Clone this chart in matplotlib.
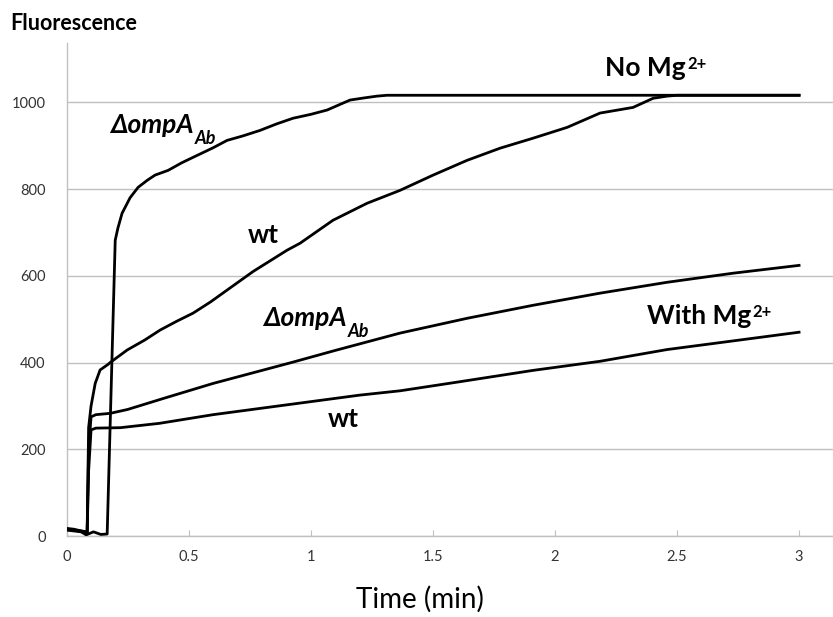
import matplotlib.pyplot as plt

# Time (min) / fluorescence readings, one pair of arrays per trace
t_ompa_nomg = [0, 0.03, 0.06, 0.08, 0.11, 0.14, 0.166, 0.199, 0.21, 0.227, 0.26, 0.293,
               0.33, 0.362, 0.416, 0.47, 0.518, 0.6, 0.657, 0.72, 0.792, 0.86, 0.927,
               1.0, 1.067, 1.12, 1.161, 1.22, 1.271, 1.312, 3.0]
f_ompa_nomg = [15, 14, 10, 3, 10, 4, 5, 682, 710, 744, 780, 804,
               820, 832, 843, 860, 873, 895, 912, 922, 935, 950, 963,
               972, 982, 995, 1005, 1010, 1014, 1016, 1016]

t_wt_nomg = [0, 0.03, 0.06, 0.084, 0.09, 0.1, 0.117, 0.137, 0.17, 0.178, 0.248, 0.32,
             0.383, 0.45, 0.518, 0.59, 0.657, 0.764, 0.903, 0.956, 1.091, 1.23, 1.366,
             1.501, 1.64, 1.775, 1.91, 2.05, 2.185, 2.32, 2.402, 2.459, 2.5, 3.0]
f_wt_nomg = [18, 16, 12, 8, 250, 300, 352, 383, 396, 400, 429, 452,
             475, 495, 514, 540, 567, 610, 659, 675, 728, 767, 797,
             832, 866, 894, 917, 942, 975, 988, 1009, 1014, 1016, 1016]

t_ompa_mg = [0, 0.03, 0.06, 0.084, 0.09, 0.1, 0.12, 0.178, 0.25, 0.4, 0.6, 0.8, 0.92,
             1.1, 1.366, 1.64, 1.91, 2.185, 2.459, 2.73, 3.0]
f_ompa_mg = [16, 14, 12, 10, 200, 275, 280, 283, 292, 318, 352, 382, 400,
             428, 468, 502, 532, 560, 585, 606, 624]

t_wt_mg = [0, 0.03, 0.06, 0.084, 0.09, 0.1, 0.12, 0.22, 0.38, 0.6, 0.8, 1.0, 1.2,
           1.366, 1.6, 1.91, 2.185, 2.459, 2.73, 3.0]
f_wt_mg = [14, 12, 10, 8, 150, 245, 249, 250, 260, 280, 295, 310, 325,
           335, 355, 382, 403, 430, 450, 470]

x_ticks = [0, 0.5, 1, 1.5, 2, 2.5, 3]
x_tick_labels = ['0', '0.5', '1', '1.5', '2', '2.5', '3']
y_ticks = [0, 200, 400, 600, 800, 1000]

FONT = ['Lato', 'DejaVu Sans']
plt.rcParams['font.family'] = FONT
GREY = '#c0c0c0'

fig = plt.figure(figsize=(8.33, 6.17), dpi=100)
ax = fig.add_axes([0.080, 0.131, 0.920, 0.799])

for t, f in [(t_ompa_nomg, f_ompa_nomg), (t_wt_nomg, f_wt_nomg),
             (t_ompa_mg, f_ompa_mg), (t_wt_mg, f_wt_mg)]:
    ax.plot(t, f, color='black', lw=2.0, solid_joinstyle='round', zorder=3)

ax.set_xlim(0, 3.139)
ax.set_ylim(0, 1136)
ax.set_xticks(x_ticks)
ax.set_xticklabels(x_tick_labels)
ax.set_yticks(y_ticks)
ax.grid(axis='y', color=GREY, lw=1.0)
ax.set_axisbelow(True)
for side in ['top', 'right']:
    ax.spines[side].set_visible(False)
for side in ['left', 'bottom']:
    ax.spines[side].set_color(GREY)
    ax.spines[side].set_linewidth(1.0)
ax.tick_params(axis='x', direction='in', length=4, color=GREY, pad=10,
               labelsize=10.5, labelcolor='#333333')
ax.tick_params(axis='y', length=0, pad=15, labelsize=10.5, labelcolor='#333333')

fig.text(10 / 833, 1 - 24 / 617, 'Fluorescence', fontsize=15.5, fontweight='bold',
         va='center', ha='left')
fig.text(420 / 833, 1 - 608 / 617, 'Time (min)', fontsize=20, ha='center', va='baseline')


def label(x, y, main, sub=None, sup=None, italic=False):
    style = 'italic' if italic else 'normal'
    t = ax.text(x, y, main, fontsize=19, fontweight='bold', style=style,
                ha='left', va='baseline', family=FONT)
    if sub:
        ax.annotate(sub, xy=(1, 0), xycoords=t, xytext=(1, -5),
                    textcoords='offset points', fontsize=13, fontweight='bold',
                    style=style, ha='left', va='baseline')
    if sup:
        ax.annotate(sup, xy=(1, 0), xycoords=t, xytext=(1, 8),
                    textcoords='offset points', fontsize=12, fontweight='bold',
                    ha='left', va='baseline')


label(0.178, 929, '\u0394ompA', sub='Ab', italic=True)
label(0.743, 675, 'wt')
label(2.205, 1060, 'No Mg', sup='2+')
label(0.805, 484, '\u0394ompA', sub='Ab', italic=True)
label(1.071, 251, 'wt')
label(2.377, 488, 'With Mg', sup='2+')

fig.savefig('out.png', dpi=100)
